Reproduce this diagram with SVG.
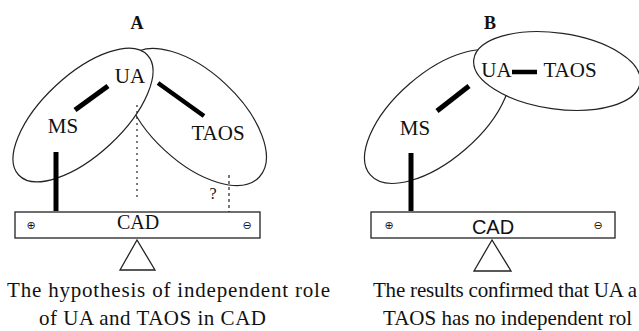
<svg xmlns="http://www.w3.org/2000/svg" width="639" height="331" viewBox="0 0 639 331">
<style>
.ell{fill:#fff;stroke:#222;stroke-width:1.2}
.box{fill:#fff;stroke:#222;stroke-width:1.3}
.tri{fill:#fff;stroke:#222;stroke-width:1.3}
.bar{stroke:#000;stroke-linecap:butt}
</style>
<defs></defs>
<rect width="639" height="331" fill="#fff"/>

<!-- Panel A -->
<g id="titleA"><text x="137" y="29" font-family="Liberation Serif, Times New Roman, serif" font-size="18" font-weight="bold" text-anchor="middle" fill="#111">A</text></g>
<g id="ellipseTAOS_A"><ellipse class="ell" cx="195" cy="117" rx="88" ry="45" transform="rotate(43 195 117)"/></g>
<g id="ellipseMS_A"><ellipse class="ell" cx="83" cy="115" rx="88" ry="40" transform="rotate(-43 83 115)"/></g>
<g font-family="Liberation Serif, Times New Roman, serif" font-size="21" fill="#111" text-anchor="middle">
<g id="UA_A"><text x="130" y="83">UA</text></g>
<g id="MS_A"><text x="63" y="133">MS</text></g>
<g id="TAOS_A"><text x="218" y="140">TAOS</text></g>
</g>
<g id="balanceA">
<rect class="box" x="15" y="212" width="245" height="26"/>
<text x="138" y="229" font-family="Liberation Serif, Times New Roman, serif" font-size="20" text-anchor="middle" fill="#111">CAD</text>
<text x="31" y="229" font-family="DejaVu Sans, sans-serif" font-size="11" text-anchor="middle" fill="#111">⊕</text>
<text x="247" y="229" font-family="DejaVu Sans, sans-serif" font-size="11" text-anchor="middle" fill="#111">⊖</text>
<polygon class="tri" points="137,240 120,270 155,270"/>
</g>
<g id="questionA"><text x="213" y="199" font-family="Liberation Serif, Times New Roman, serif" font-size="16" text-anchor="middle" fill="#111">?</text></g>
<g id="captionA" font-family="Liberation Serif, Times New Roman, serif" font-size="21" fill="#111">
<text x="7" y="297" textLength="323" lengthAdjust="spacing">The hypothesis of independent role</text>
<text x="39" y="325" textLength="227" lengthAdjust="spacing">of UA and TAOS in CAD</text>
</g>

<!-- Panel B -->
<g id="titleB"><text x="490" y="29" font-family="Liberation Serif, Times New Roman, serif" font-size="18" font-weight="bold" text-anchor="middle" fill="#111">B</text></g>
<g id="ellipseMS_B"><ellipse class="ell" cx="437.5" cy="116.5" rx="89" ry="43" transform="rotate(-41 437.5 116.5)"/></g>
<g id="ellipseUATAOS_B"><ellipse class="ell" cx="557" cy="71" rx="84" ry="38" transform="rotate(8 557 71)"/></g>
<g font-family="Liberation Serif, Times New Roman, serif" font-size="21" fill="#111" text-anchor="middle">
<g id="UA_B"><text x="496.5" y="77">UA</text></g>
<g id="TAOS_B"><text x="570" y="77">TAOS</text></g>
<g id="MS_B"><text x="415" y="135">MS</text></g>
</g>
<g id="balanceB">
<rect class="box" x="371" y="212" width="244" height="26"/>
<text x="493" y="234" font-family="Liberation Sans, Arial, sans-serif" font-size="20" text-anchor="middle" fill="#111">CAD</text>
<text x="389" y="229" font-family="DejaVu Sans, sans-serif" font-size="11" text-anchor="middle" fill="#111">⊕</text>
<text x="598" y="229" font-family="DejaVu Sans, sans-serif" font-size="11" text-anchor="middle" fill="#111">⊖</text>
<polygon class="tri" points="492,240 474,271 511,271"/>
</g>
<g id="captionB" font-family="Liberation Serif, Times New Roman, serif" font-size="21" fill="#111">
<text x="373" y="297" textLength="264" lengthAdjust="spacing">The results confirmed that UA a</text>
<text x="383" y="325" textLength="249" lengthAdjust="spacing">TAOS has no independent rol</text>
</g>

<!-- Connectors -->
<g id="connectors">
<line class="bar" x1="75" y1="110" x2="108" y2="86" stroke-width="5"/>
<line class="bar" x1="158" y1="83" x2="204" y2="116" stroke-width="4.5"/>
<line class="bar" x1="56" y1="152" x2="56" y2="211" stroke-width="5"/>
<line x1="137" y1="105" x2="137" y2="201" stroke="#222" stroke-width="1.2" stroke-dasharray="2,4"/>
<line x1="229" y1="175" x2="229" y2="212" stroke="#222" stroke-width="1.2" stroke-dasharray="3,3"/>
<line class="bar" x1="437" y1="111" x2="469" y2="86" stroke-width="5"/>
<line class="bar" x1="512" y1="72" x2="537" y2="72" stroke-width="4.5"/>
<line class="bar" x1="411" y1="153" x2="411" y2="211" stroke-width="5"/>
</g>
</svg>
